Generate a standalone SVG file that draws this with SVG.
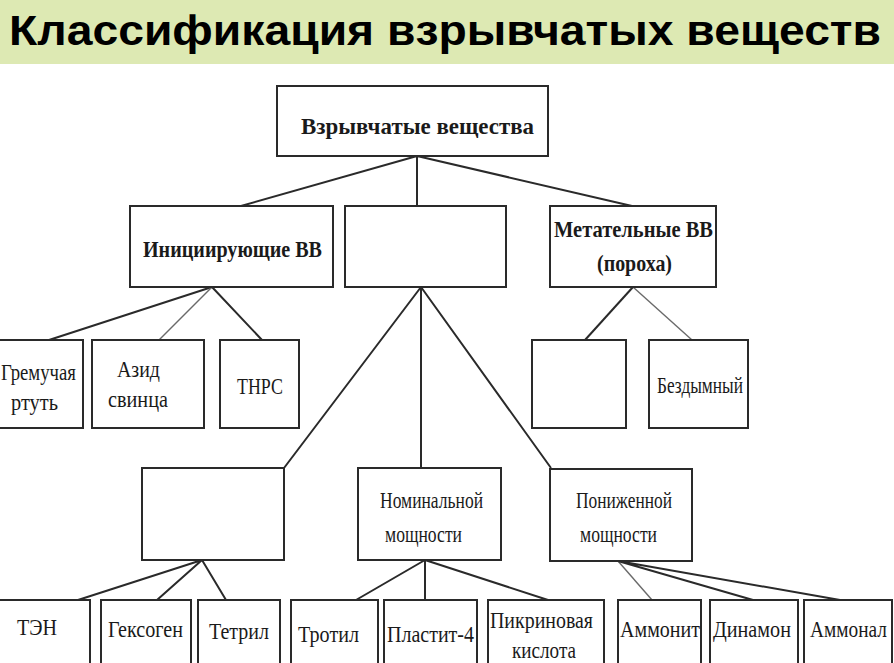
<svg xmlns="http://www.w3.org/2000/svg" width="894" height="663" viewBox="0 0 894 663">
<style>
.box{fill:#fff;stroke:#2a2a2a;stroke-width:2}
.ln{stroke:#2a2a2a;stroke-width:2;fill:none}
.lg{stroke:#6a6a6a;stroke-width:1.4;fill:none}
.t{font-family:"Liberation Serif","DejaVu Serif",serif;font-size:23px;fill:#1a1a1a}
.b{font-weight:bold}
.title{font-family:"Liberation Sans","DejaVu Sans",sans-serif;font-weight:bold;font-size:43px;fill:#000}
</style>
<rect x="0" y="0" width="894" height="663" fill="#fff"/>
<rect x="0" y="0" width="894" height="64" fill="#dde9b3"/>
<text class="title" x="9" y="45" textLength="872" lengthAdjust="spacingAndGlyphs">Классификация взрывчатых веществ</text>

<g id="connectors">
<path class="ln" d="M417 156 L241 206 M417 156 L417 206 M417 156 L632 206"/>
<path class="ln" d="M212 287 L49 340 M212 287 L262 340"/>
<path class="lg" d="M212 287 L159 340"/>
<path class="ln" d="M633 287 L585 340"/>
<path class="lg" d="M633 287 L692 340"/>
<path class="ln" d="M421 287 L284 468 M421 287 L421 468 M421 287 L551 468"/>
<path class="ln" d="M202 560 L78 600 M202 560 L157 600 M202 560 L226 600"/>
<path class="ln" d="M425 560 L356 600 M425 560 L425 600 M425 560 L548 600"/>
<path class="lg" d="M618 561 L652 600"/>
<path class="ln" d="M618 561 L753 600 M618 561 L840 600"/>
</g>

<g id="n-root"><rect class="box" x="277" y="86" width="271" height="70"/><text class="t b" x="301" y="134" font-size="26" textLength="233" lengthAdjust="spacingAndGlyphs">Взрывчатые вещества</text></g>

<g id="n-init"><rect class="box" x="130" y="206" width="203" height="81"/><text class="t b" x="143" y="257" textLength="179" lengthAdjust="spacingAndGlyphs">Инициирующие ВВ</text></g>
<g id="n-mid"><rect class="box" x="345" y="206" width="161" height="81"/></g>
<g id="n-met"><rect class="box" x="550" y="206" width="166" height="81"/><text class="t b" x="554" y="237" textLength="159" lengthAdjust="spacingAndGlyphs">Метательные ВВ</text><text class="t b" x="597" y="271" textLength="75" lengthAdjust="spacingAndGlyphs">(пороха)</text></g>

<g id="n-grem"><rect class="box" x="-2" y="340" width="85" height="88"/><text class="t" x="1" y="380" textLength="75" lengthAdjust="spacingAndGlyphs">Гремучая</text><text class="t" x="11" y="410" textLength="47" lengthAdjust="spacingAndGlyphs">ртуть</text></g>
<g id="n-azid"><rect class="box" x="92" y="340" width="112" height="88"/><text class="t" x="117" y="377" textLength="43" lengthAdjust="spacingAndGlyphs">Азид</text><text class="t" x="108" y="407" textLength="60" lengthAdjust="spacingAndGlyphs">свинца</text></g>
<g id="n-thrs"><rect class="box" x="220" y="340" width="79" height="88"/><text class="t" x="237" y="394" textLength="46" lengthAdjust="spacingAndGlyphs">ТНРС</text></g>
<g id="n-met-empty"><rect class="box" x="532" y="340" width="94" height="88"/></g>
<g id="n-bezd"><rect class="box" x="649" y="340" width="99" height="88"/><text class="t" x="657" y="393" textLength="86" lengthAdjust="spacingAndGlyphs">Бездымный</text></g>

<g id="n-high"><rect class="box" x="142" y="468" width="142" height="92"/></g>
<g id="n-nom"><rect class="box" x="358" y="468" width="143" height="92"/><text class="t" x="380" y="508" textLength="103" lengthAdjust="spacingAndGlyphs">Номинальной</text><text class="t" x="385" y="542" textLength="77" lengthAdjust="spacingAndGlyphs">мощности</text></g>
<g id="n-low"><rect class="box" x="550" y="469" width="142" height="92"/><text class="t" x="576" y="508" textLength="96" lengthAdjust="spacingAndGlyphs">Пониженной</text><text class="t" x="580" y="542" textLength="77" lengthAdjust="spacingAndGlyphs">мощности</text></g>

<g id="n-ten"><rect class="box" x="-2" y="600" width="92" height="70"/><text class="t" x="17" y="635" textLength="40" lengthAdjust="spacingAndGlyphs">ТЭН</text></g>
<g id="n-geks"><rect class="box" x="101" y="600" width="90" height="70"/><text class="t" x="108" y="637" textLength="75" lengthAdjust="spacingAndGlyphs">Гексоген</text></g>
<g id="n-tetr"><rect class="box" x="198" y="600" width="82" height="70"/><text class="t" x="209" y="639" textLength="60" lengthAdjust="spacingAndGlyphs">Тетрил</text></g>
<g id="n-trot"><rect class="box" x="291" y="600" width="87" height="70"/><text class="t" x="298" y="642" textLength="61" lengthAdjust="spacingAndGlyphs">Тротил</text></g>
<g id="n-plast"><rect class="box" x="384" y="600" width="93" height="70"/><text class="t" x="387" y="642" textLength="87" lengthAdjust="spacingAndGlyphs">Пластит-4</text></g>
<g id="n-pikr"><rect class="box" x="488" y="600" width="116" height="70"/><text class="t" x="490" y="628" textLength="103" lengthAdjust="spacingAndGlyphs">Пикриновая</text><text class="t" x="512" y="658" textLength="64" lengthAdjust="spacingAndGlyphs">кислота</text></g>
<g id="n-ammonit"><rect class="box" x="618" y="600" width="83" height="70"/><text class="t" x="620" y="637" textLength="80" lengthAdjust="spacingAndGlyphs">Аммонит</text></g>
<g id="n-dinam"><rect class="box" x="710" y="600" width="88" height="70"/><text class="t" x="713" y="637" textLength="78" lengthAdjust="spacingAndGlyphs">Динамон</text></g>
<g id="n-ammonal"><rect class="box" x="804" y="600" width="88" height="70"/><text class="t" x="810" y="637" textLength="77" lengthAdjust="spacingAndGlyphs">Аммонал</text></g>
</svg>
